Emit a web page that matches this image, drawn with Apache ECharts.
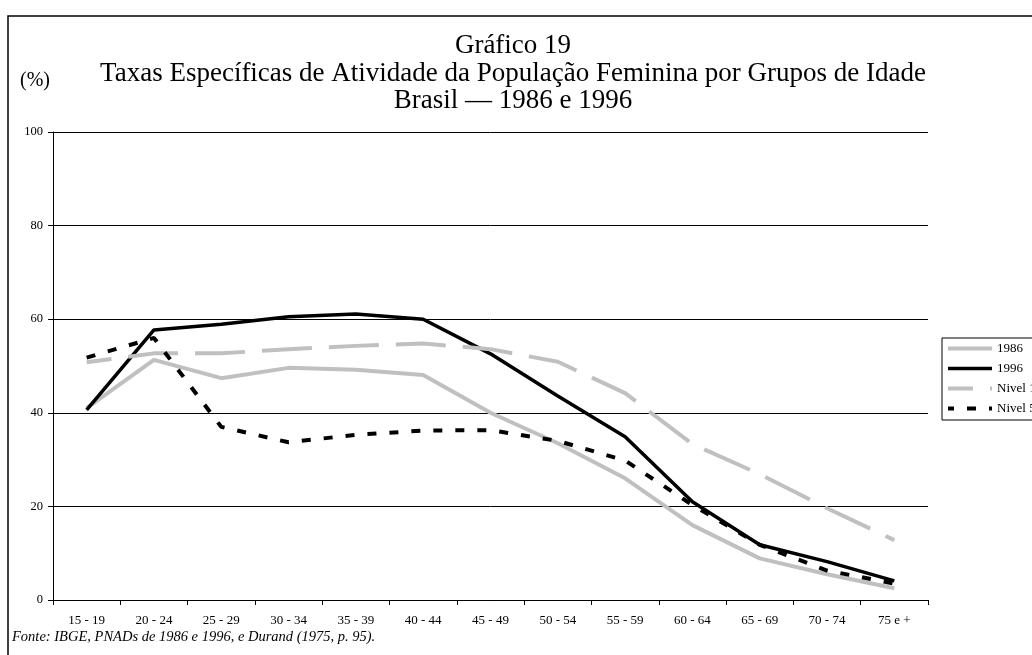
<!DOCTYPE html>
<html>
<head>
<meta charset="utf-8">
<script src="https://cdn.jsdelivr.net/npm/echarts@6/dist/echarts.min.js"></script>
<style>
    html, body { margin: 0; padding: 0; background: #ffffff; }
    #chart { width: 1032px; height: 655px; }
</style>
</head>
<body>
<div id="chart"></div>
<script>
// grupos de idade
const categories = ['15 - 19', '20 - 24', '25 - 29', '30 - 34', '35 - 39', '40 - 44', '45 - 49',
    '50 - 54', '55 - 59', '60 - 64', '65 - 69', '70 - 74', '75 e +'];
// taxas (%)
const taxa1986 = [41.0, 51.3, 47.4, 49.6, 49.2, 48.1, 40.0, 33.5, 26.0, 16.0, 8.9, 5.5, 2.5];
const taxa1996 = [40.6, 57.7, 58.9, 60.5, 61.1, 60.0, 52.6, 43.6, 34.9, 21.0, 11.8, 8.2, 4.1];
const nivel1 = [50.8, 52.7, 52.7, 53.6, 54.3, 54.8, 53.6, 50.9, 44.2, 33.3, 26.9, 19.6, 12.8];
const nivel5 = [51.8, 56.0, 37.0, 33.7, 35.3, 36.2, 36.3, 34.0, 29.8, 20.3, 11.8, 6.3, 3.5];
const seriesNames = ['1986', '1996', 'Nivel 1', 'Nivel 5'];

const serif = 'Liberation Serif, Times New Roman, serif';

let myChart = echarts.init(document.getElementById('chart'));

myChart.setOption({
    animation: false,
    backgroundColor: '#ffffff',
    grid: {
        left: 53,
        top: 132,
        width: 875,
        height: 468
    },
    legend: {
        orient: 'vertical',
        left: 942,
        top: 338,
        data: seriesNames,
        itemWidth: 44,
        itemHeight: 10,
        itemGap: 7,
        padding: [4, 60, 5, 4],
        borderColor: '#000000',
        borderWidth: 1,
        // só a linha, sem o marcador circular
        itemStyle: { opacity: 0, borderWidth: 0 },
        lineStyle: { width: 'inherit' },
        textStyle: {
            fontFamily: serif,
            fontSize: 13,
            color: '#000000'
        }
    },
    xAxis: {
        type: 'category',
        data: categories,
        boundaryGap: true,
        axisLine: { lineStyle: { color: '#000000', width: 1 } },
        axisTick: { show: true, interval: 0, length: 5, lineStyle: { color: '#000000' } },
        axisLabel: {
            interval: 0,
            margin: 14,
            fontFamily: serif,
            fontSize: 13,
            color: '#000000'
        },
        splitLine: { show: false }
    },
    yAxis: {
        type: 'value',
        min: 0,
        max: 100,
        interval: 20,
        axisLine: { show: true, lineStyle: { color: '#000000', width: 1 } },
        axisTick: { show: true, length: 5, lineStyle: { color: '#000000' } },
        axisLabel: {
            margin: 10,
            fontFamily: serif,
            fontSize: 12.5,
            color: '#000000'
        },
        splitLine: { show: true, lineStyle: { color: '#000000', width: 1 } }
    },
    graphic: [
        {
            type: 'rect',
            shape: { x: 8, y: 16, width: 1200, height: 800 },
            style: { fill: 'none', stroke: '#000000', lineWidth: 1.5 },
            silent: true
        },
        {
            type: 'text',
            x: 513, y: 46,
            style: {
                text: 'Gráfico 19', fill: '#000000',
                font: '27px ' + serif, textAlign: 'center', textVerticalAlign: 'middle'
            }
        },
        {
            type: 'text',
            x: 513, y: 74,
            style: {
                text: 'Taxas Específicas de Atividade da População Feminina por Grupos de Idade',
                fill: '#000000',
                font: '27px ' + serif, textAlign: 'center', textVerticalAlign: 'middle'
            }
        },
        {
            type: 'text',
            x: 513, y: 101,
            style: {
                text: 'Brasil — 1986 e 1996', fill: '#000000',
                font: '27px ' + serif, textAlign: 'center', textVerticalAlign: 'middle'
            }
        },
        {
            type: 'text',
            x: 20, y: 81,
            style: {
                text: '(%)', fill: '#000000',
                font: '20px ' + serif, textAlign: 'left', textVerticalAlign: 'middle'
            }
        },
        {
            type: 'text',
            x: 12, y: 637,
            style: {
                text: 'Fonte: IBGE, PNADs de 1986 e 1996, e Durand (1975, p. 95).',
                fill: '#000000',
                font: 'italic 14.5px ' + serif, textAlign: 'left', textVerticalAlign: 'middle'
            }
        }
    ],
    series: [
        {
            name: '1986',
            type: 'line',
            data: taxa1986,
            symbol: 'none',
            lineStyle: { color: '#c0c0c0', width: 4 },
            itemStyle: { color: '#c0c0c0' }
        },
        {
            name: '1996',
            type: 'line',
            data: taxa1996,
            symbol: 'none',
            lineStyle: { color: '#000000', width: 3.5 },
            itemStyle: { color: '#000000' }
        },
        {
            name: 'Nivel 1',
            type: 'line',
            data: nivel1,
            symbol: 'none',
            lineStyle: { color: '#c0c0c0', width: 4, type: [50, 17], dashOffset: 25 },
            itemStyle: { color: '#c0c0c0' }
        },
        {
            name: 'Nivel 5',
            type: 'line',
            data: nivel5,
            symbol: 'none',
            lineStyle: { color: '#000000', width: 4, type: [9, 13] },
            itemStyle: { color: '#000000' }
        }
    ]
});

window.addEventListener('resize', () => {
    myChart.resize();
});
</script>
</body>
</html>
